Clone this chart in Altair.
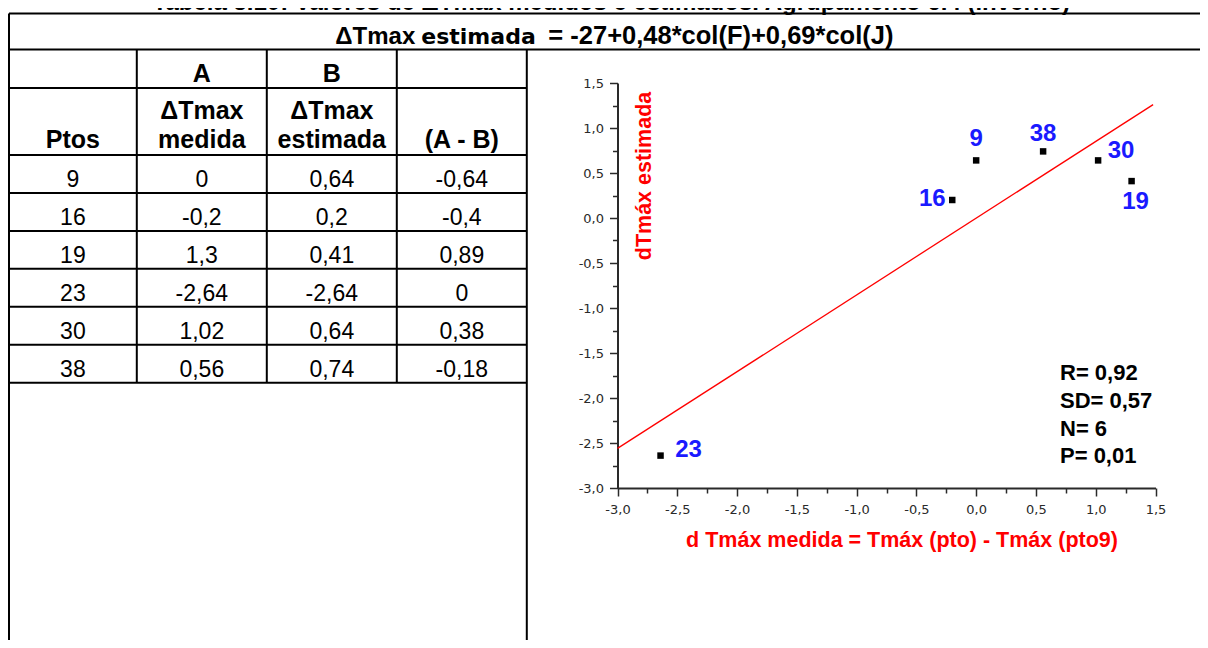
import altair as alt
import pandas as pd

# ---------------- data ----------------
title_text = "Tabela 5.10: Valores de ΔTmax medidos e estimados. Agrupamento 6.4 (inverno)"
formula_parts = ["ΔTmax", "estimada", "= -27+0,48*col(F)+0,69*col(J)"]
col_letters = ["", "A", "B", ""]
head_line1 = ["", "ΔTmax", "ΔTmax", ""]
head_line2 = ["Ptos", "medida", "estimada", "(A - B)"]
ptos = ["9", "16", "19", "23", "30", "38"]
medida = [0, -0.2, 1.3, -2.64, 1.02, 0.56]
estimada = [0.64, 0.2, 0.41, -2.64, 0.64, 0.74]
diferenca = [-0.64, -0.4, 0.89, 0, 0.38, -0.18]
fit_x = [-3.0, 1.48]
fit_y = [-2.56, 1.26]
axis_ticks = [-3.0, -2.5, -2.0, -1.5, -1.0, -0.5, 0.0, 0.5, 1.0, 1.5]
stats_lines = ["R= 0,92", "SD= 0,57", "N= 6", "P= 0,01"]
x_title = "d Tmáx medida = Tmáx (pto) - Tmáx (pto9)"
y_title = "dTmáx estimada"

# ---------------- layout / style ----------------
W, H = 1192, 632
FONT = "Liberation Sans"
LABEL_FONT = "Liberation Sans"
AX = "#2a2a2a"
RED = "#ff0000"
BLUE = "#1a1aff"
n_rows, n_cols = len(ptos), 4
FRAME_COLS = 9.3  # frame runs past the right edge of the page

tx = alt.Scale(domain=[0, 1, n_cols], range=[1, 128.8, 518.8], nice=False, zero=False)
ty = alt.Scale(domain=[-3, -2, -1, 0, n_rows, n_rows + 1],
               range=[5.5, 41.5, 80, 147, 374.7, 660], nice=False, zero=False)


def fmt(v):
    return f"{v:g}".replace(".", ",")


def tX(f="x"):
    return alt.X(f"{f}:Q", scale=tx, axis=None)


def tY(f="y"):
    return alt.Y(f"{f}:Q", scale=ty, axis=None)


# table grid
hl = [{"y": -3, "x": 0, "x2": FRAME_COLS}, {"y": -2, "x": 0, "x2": FRAME_COLS}]
hl += [{"y": r, "x": 0, "x2": n_cols} for r in range(-1, n_rows + 1)]
vl = [{"x": 0, "y": -3, "y2": n_rows + 1}]
vl += [{"x": c, "y": -2, "y2": n_rows} for c in range(1, n_cols)]
vl += [{"x": n_cols, "y": -2, "y2": n_rows + 1}]

h_rules = alt.Chart(pd.DataFrame(hl)).mark_rule(color="black", strokeWidth=2).encode(
    x=tX(), x2="x2:Q", y=tY())
v_rules = alt.Chart(pd.DataFrame(vl)).mark_rule(color="black", strokeWidth=2).encode(
    x=tX(), y=tY(), y2="y2:Q")


def text_layer(rows, size, bold, dy, dx=0, align="center", font=FONT):
    return alt.Chart(pd.DataFrame(rows)).mark_text(
        font=font, fontSize=size, fontWeight="bold" if bold else "normal",
        color="black", dy=dy, dx=dx, align=align, baseline="alphabetic"
    ).encode(x=tX(), y=tY(), text="text:N")


mid = FRAME_COLS / 2
title_layer = text_layer([{"x": mid, "y": -3, "text": title_text}], 24, True, -4)
# formula: big / small / big pieces laid end to end (offsets from the row centre, px)
f1 = text_layer([{"x": mid, "y": -2, "text": formula_parts[0]}], 24, True, -6, dx=-276, align="left")
f2 = text_layer([{"x": mid, "y": -2, "text": formula_parts[1]}], 22, True, -6, dx=-190,
                align="left", font="DejaVu Sans")
f3 = text_layer([{"x": mid, "y": -2, "text": formula_parts[2]}], 25.5, True, -6, dx=-63, align="left")

letters = text_layer([{"x": c + 0.5, "y": -1, "text": t} for c, t in enumerate(col_letters) if t], 25, True, -6)
head1 = text_layer([{"x": c + 0.5, "y": 0, "text": t} for c, t in enumerate(head_line1) if t], 25, True, -36)
head2 = text_layer([{"x": c + 0.5, "y": 0, "text": t} for c, t in enumerate(head_line2) if t], 25, True, -7)

cells = []
for i in range(n_rows):
    for c, t in enumerate([ptos[i], fmt(medida[i]), fmt(estimada[i]), fmt(diferenca[i])]):
        cells.append({"x": c + 0.5, "y": i + 1, "text": t})
body = text_layer(cells, 23, False, -6)

table = alt.layer(h_rules, v_rules, title_layer, f1, f2, f3, letters, head1, head2, body)

# ---------------- scatter ----------------
sx = alt.Scale(domain=[-3, 1.5], range=[609.5, 1147.5], nice=False, zero=False)
sy = alt.Scale(domain=[-3, 1.5], range=[480, 75], nice=False, zero=False)
minor_ticks = [v + 0.25 for v in axis_ticks[:-1]]
lab_expr = "(datum.value < 0 ? '-' : '') + replace(format(abs(datum.value), '.1f'), '.', ',')"
common = dict(domainColor=AX, tickColor=AX, tickWidth=1.5, grid=False)
lab = dict(labelFont="DejaVu Sans", labelFontSize=13, labelColor=AX, labelExpr=lab_expr,
           labelOverlap=False, labelFlush=False, domainWidth=2)
ttl = dict(titleColor=RED, titleFont=FONT, titleFontSize=21.5, titleFontWeight="bold",
           titleBaseline="middle", titleAlign="center")

x_major = alt.Axis(orient="bottom", offset=-(H - 480), values=axis_ticks, tickSize=8, labelPadding=7,
                   title=x_title, titleX=893.5, titleY=52, **common, **lab, **ttl)
y_major = alt.Axis(orient="left", offset=-609.5, values=axis_ticks, tickSize=8, labelPadding=6,
                   title=y_title, titleAngle=270, titleX=26.5, titleY=167.5, **common, **lab, **ttl)
x_minor = alt.Axis(orient="bottom", offset=-(H - 480), values=minor_ticks, tickSize=5, labels=False,
                   domain=False, title=None, **common)
y_minor = alt.Axis(orient="left", offset=-609.5, values=minor_ticks, tickSize=5, labels=False,
                   domain=False, title=None, **common)

fit_df = pd.DataFrame({"x": fit_x, "y": fit_y})
pts = pd.DataFrame({"pto": ptos, "medida": medida, "estimada": estimada})
# label placement next to each point (pixels)
label_offset = {"9": (0, -21), "38": (0, -17), "30": (23, -9), "19": (4, 21), "16": (-20, -1), "23": (28, -6)}

fit_line = alt.Chart(fit_df).mark_line(color=RED, strokeWidth=1.3).encode(
    x=alt.X("x:Q", scale=sx, axis=x_major), y=alt.Y("y:Q", scale=sy, axis=y_major))
minor_layer = alt.Chart(pts).mark_point(opacity=0).encode(
    x=alt.X("medida:Q", scale=sx, axis=x_minor), y=alt.Y("estimada:Q", scale=sy, axis=y_minor))
points = alt.Chart(pts).mark_square(size=42, color="black", opacity=1).encode(
    x=alt.X("medida:Q", scale=sx, axis=None), y=alt.Y("estimada:Q", scale=sy, axis=None))

label_layers = []
for p in ptos:
    ox, oy = label_offset[p]
    label_layers.append(
        alt.Chart(pts).transform_filter(alt.datum.pto == p).mark_text(
            font=LABEL_FONT, fontSize=24, fontWeight="bold", color=BLUE,
            baseline="middle", align="center", dx=ox, dy=oy
        ).encode(x=alt.X("medida:Q", scale=sx, axis=None),
                 y=alt.Y("estimada:Q", scale=sy, axis=None), text="pto:N")
    )

stats = alt.Chart(pd.DataFrame({"t": ["\n".join(stats_lines)]})).mark_text(
    font=FONT, fontSize=22, fontWeight="bold", color="black", align="left", baseline="top",
    lineBreak="\n", lineHeight=27.7
).encode(x=alt.value(1052), y=alt.value(355.4), text="t:N")

scatter = alt.layer(fit_line, minor_layer, points, *label_layers, stats).resolve_axis(
    x="independent", y="independent")

chart = alt.layer(table, scatter).resolve_scale(x="independent", y="independent").properties(
    width=W, height=H, padding=0, autosize=alt.AutoSizeParams(type="none"), background="white"
).configure_view(stroke=None)

chart.save("out.html", embed_options={"renderer": "svg", "actions": False})
